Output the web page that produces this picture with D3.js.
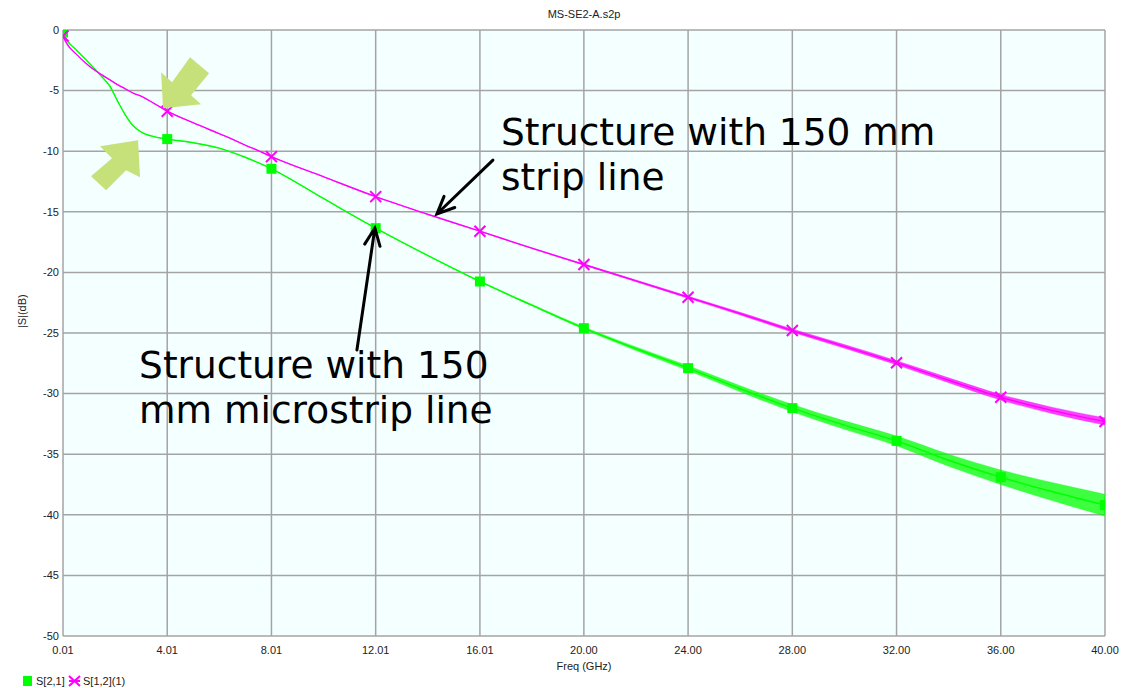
<!DOCTYPE html>
<html>
<head>
<meta charset="utf-8">
<script src="https://cdn.jsdelivr.net/npm/d3@7"></script>
<style>
  body { margin: 0; background: #fff; }
  svg { display: block; font-family: "Liberation Sans", Arial, sans-serif; }
  .tick-label { font-size: 11px; fill: #222; }
  .note { font-family: "DejaVu Sans", Verdana, sans-serif; font-size: 37.5px; fill: #000; }
</style>
</head>
<body>
<svg id="chart"></svg>
<script>
// frequency samples (GHz) and |S| in dB
const freqs = [0.01, 0.15, 0.5, 1.0, 1.5, 1.8, 2.1, 2.4, 2.7, 3.0, 3.5, 4.01, 5, 6, 6.5, 7, 7.5, 8.01,
  10, 12.01, 14, 16.01, 18, 20, 22, 24, 26, 28, 30, 32, 34, 36, 38, 40];
const s21 = [-0.2, -0.8, -1.6, -2.7, -3.85, -4.6, -5.85, -7.0, -7.9, -8.4, -8.8, -9.0, -9.3, -9.75, -10.1, -10.5, -10.95, -11.45,
  -13.9, -16.35, -18.6, -20.75, -22.7, -24.6, -26.3, -27.9, -29.6, -31.2, -32.6, -33.9, -35.5, -36.9, -38.1, -39.2];
const s12 = [-0.5, -1.1, -1.95, -2.95, -3.7, -4.1, -4.5, -4.85, -5.2, -5.45, -6.05, -6.7, -7.65, -8.55, -9.0, -9.5, -9.95, -10.45,
  -12.1, -13.75, -15.2, -16.6, -18.0, -19.35, -20.7, -22.05, -23.4, -24.8, -26.1, -27.45, -28.9, -30.3, -31.4, -32.3];
// half-width of the measurement noise band (dB)
const s21Noise = [0, 0, 0, 0, 0, 0, 0, 0, 0, 0, 0, 0, 0, 0, 0, 0, 0, 0,
  0, 0, 0, 0.03, 0.06, 0.1, 0.15, 0.2, 0.25, 0.3, 0.35, 0.4, 0.5, 0.6, 0.75, 0.9];
const s12Noise = [0, 0, 0, 0, 0, 0, 0, 0, 0, 0, 0, 0, 0, 0, 0, 0, 0, 0,
  0, 0, 0, 0, 0.03, 0.05, 0.07, 0.09, 0.11, 0.13, 0.15, 0.17, 0.2, 0.23, 0.26, 0.3];

const xTicks = [0.01, 4.01, 8.01, 12.01, 16.01, 20, 24, 28, 32, 36, 40];
const xTickLabels = ["0.01", "4.01", "8.01", "12.01", "16.01", "20.00", "24.00", "28.00", "32.00", "36.00", "40.00"];
const yTicks = [0, -5, -10, -15, -20, -25, -30, -35, -40, -45, -50];

const title = "MS-SE2-A.s2p";
const seriesNames = ["S[2,1]", "S[1,2](1)"];

const width = 1127;
const height = 688;
const margin = { top: 30, right: 22, bottom: 52, left: 63 };

const green = "#00ff00";
const magenta = "#ff00ff";
const arrowFill = "#c6e07a";

const svg = d3.select("#chart").attr("width", width).attr("height", height);

const x = d3.scaleLinear().domain([0.01, 40]).range([margin.left, width - margin.right]);
const y = d3.scaleLinear().domain([-50, 0]).range([height - margin.bottom, margin.top]);

svg.append("defs").append("clipPath").attr("id", "plot-clip")
  .append("rect")
  .attr("x", x(0.01)).attr("y", y(0))
  .attr("width", x(40) - x(0.01)).attr("height", y(-50) - y(0));

// plot background
svg.append("rect")
  .attr("x", x(0.01)).attr("y", y(0))
  .attr("width", x(40) - x(0.01)).attr("height", y(-50) - y(0))
  .attr("fill", "#f4ffff");

// grid
const gridG = svg.append("g").attr("stroke", "#a4a4a4").attr("stroke-width", 1.5);
gridG.selectAll(".vgrid").data(xTicks).join("line")
  .attr("x1", (d) => x(d)).attr("x2", (d) => x(d))
  .attr("y1", y(0)).attr("y2", y(-50));
gridG.selectAll(".hgrid").data(yTicks).join("line")
  .attr("x1", x(0.01)).attr("x2", x(40))
  .attr("y1", (d) => y(d)).attr("y2", (d) => y(d));

// tick labels
svg.append("g").selectAll("text").data(yTicks).join("text")
  .attr("class", "tick-label")
  .attr("x", x(0.01) - 4).attr("y", (d) => y(d))
  .attr("dy", "0.35em").attr("text-anchor", "end")
  .text((d) => d);
svg.append("g").selectAll("text").data(xTicks).join("text")
  .attr("class", "tick-label")
  .attr("x", (d) => x(d)).attr("y", y(-50) + 18)
  .attr("text-anchor", "middle")
  .text((d, i) => xTickLabels[i]);

svg.append("text").attr("class", "tick-label")
  .attr("x", (x(0.01) + x(40)) / 2).attr("y", 18)
  .attr("text-anchor", "middle").text(title);
svg.append("text").attr("class", "tick-label")
  .attr("x", (x(0.01) + x(40)) / 2).attr("y", y(-50) + 34)
  .attr("text-anchor", "middle").text("Freq (GHz)");
svg.append("text").attr("class", "tick-label")
  .attr("transform", `translate(26,${y(-23.2)}) rotate(-90)`)
  .attr("text-anchor", "middle").text("|S|(dB)");

// series
const rows = freqs.map((f, i) => ({ f, s21: s21[i], s12: s12[i], n21: s21Noise[i], n12: s12Noise[i] }));
const plotG = svg.append("g").attr("clip-path", "url(#plot-clip)");

function drawSeries(key, noiseKey, color) {
  const band = d3.area()
    .x((d) => x(d.f))
    .y0((d) => y(d[key] - d[noiseKey]))
    .y1((d) => y(d[key] + d[noiseKey]))
    .curve(d3.curveMonotoneX);
  plotG.append("path").datum(rows)
    .attr("d", band).attr("fill", color).attr("fill-opacity", 0.75)
    .attr("stroke", color).attr("stroke-width", 0.6).attr("stroke-opacity", 0.5);
  const line = d3.line().x((d) => x(d.f)).y((d) => y(d[key])).curve(d3.curveMonotoneX);
  plotG.append("path").datum(rows)
    .attr("d", line).attr("fill", "none").attr("stroke", color).attr("stroke-width", 1.4);
}
drawSeries("s21", "n21", green);
drawSeries("s12", "n12", magenta);

const markerRows = rows.filter((d) => xTicks.includes(d.f));
plotG.append("g").selectAll("rect").data(markerRows).join("rect")
  .attr("x", (d) => x(d.f) - 5).attr("y", (d) => y(d.s21) - 5)
  .attr("width", 10).attr("height", 10).attr("fill", green);
plotG.append("g").selectAll("path").data(markerRows).join("path")
  .attr("d", (d) => {
    const cx = x(d.f), cy = y(d.s12), r = 5.5;
    return `M${cx - r},${cy - r}L${cx + r},${cy + r}M${cx - r},${cy + r}L${cx + r},${cy - r}`;
  })
  .attr("stroke", magenta).attr("stroke-width", 2).attr("fill", "none");

// highlight arrows (pixel offsets from the tip)
const blockArrows = [
  { f: 3.85, v: -6.45, pts: [[0, 0], [-2, -36], [9, -26], [27, -51], [46, -35], [28, -13], [38, -4]] },
  { f: 2.89, v: -9.1, pts: [[0, 0], [-38, 6], [-26, 18], [-47, 36], [-32, 50], [-12, 30], [2, 37]] },
];
svg.append("g").selectAll("path").data(blockArrows).join("path")
  .attr("d", (d) => "M" + d.pts.map(([dx, dy]) => `${x(d.f) + dx},${y(d.v) + dy}`).join("L") + "Z")
  .attr("fill", arrowFill);

// callouts
const notes = [
  { f: 16.82, v: -9.49, lines: ["Structure with 150 mm", "strip line"] },
  { f: 2.93, v: -28.7, lines: ["Structure with 150", "mm microstrip line"] },
];
svg.append("g").selectAll("text").data(notes).join("text")
  .attr("class", "note")
  .attr("x", (d) => x(d.f)).attr("y", (d) => y(d.v))
  .selectAll("tspan").data((d) => d.lines.map((t) => ({ t, f: d.f }))).join("tspan")
  .attr("x", (d) => x(d.f)).attr("dy", (d, i) => (i ? 45 : 0))
  .text((d) => d.t);

const pointers = [
  { from: [16.51, -10.73], to: [14.36, -15.18] },
  { from: [11.29, -26.4], to: [11.98, -16.34] },
];
const pointerG = svg.append("g").attr("stroke", "#000").attr("stroke-width", 3)
  .attr("fill", "none").attr("stroke-linecap", "round");
pointers.forEach((p) => {
  const x1 = x(p.from[0]), y1 = y(p.from[1]), x2 = x(p.to[0]), y2 = y(p.to[1]);
  const a = Math.atan2(y1 - y2, x1 - x2);
  const h = 19, spread = 0.42;
  pointerG.append("path").attr("d",
    `M${x1},${y1}L${x2},${y2}` +
    `M${x2 + h * Math.cos(a - spread)},${y2 + h * Math.sin(a - spread)}L${x2},${y2}` +
    `L${x2 + h * Math.cos(a + spread)},${y2 + h * Math.sin(a + spread)}`);
});

// legend
const legendY = 681;
const legendG = svg.append("g");
legendG.append("rect").attr("x", 23).attr("y", legendY - 5).attr("width", 9).attr("height", 10).attr("fill", green);
legendG.append("text").attr("class", "tick-label").attr("x", 36).attr("y", legendY).attr("dy", "0.35em").text(seriesNames[0]);
legendG.append("path")
  .attr("d", `M69,${legendY - 5}L80,${legendY + 5}M69,${legendY + 5}L80,${legendY - 5}M69,${legendY}L80,${legendY}`)
  .attr("stroke", magenta).attr("stroke-width", 2);
legendG.append("text").attr("class", "tick-label").attr("x", 83).attr("y", legendY).attr("dy", "0.35em").text(seriesNames[1]);
</script>
</body>
</html>
